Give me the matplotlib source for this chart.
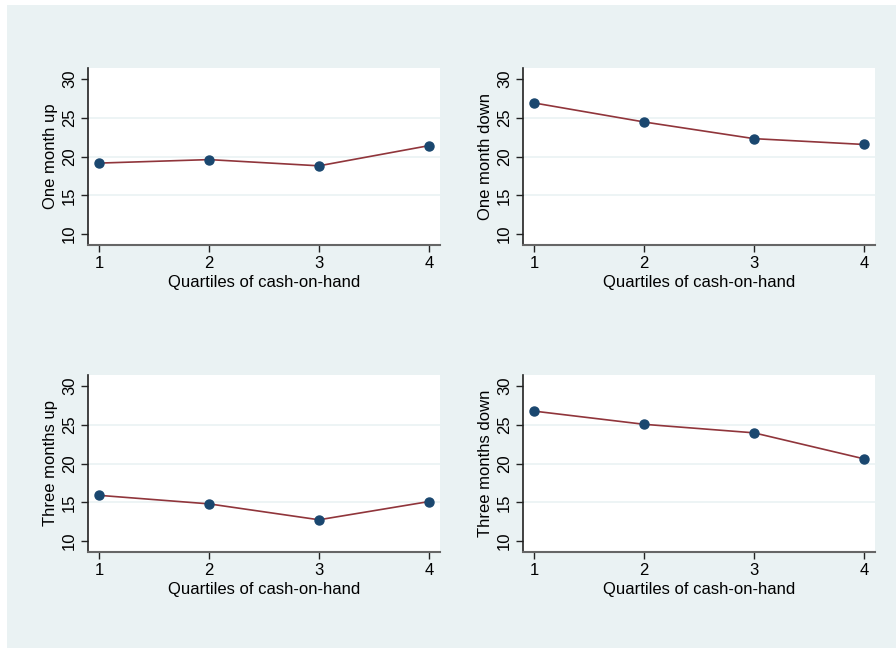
import matplotlib.pyplot as plt
from matplotlib.patches import Rectangle

plt.rcParams['font.family'] = ['Liberation Sans', 'DejaVu Sans']

quartiles = [1, 2, 3, 4]
one_month_up = [19.15, 19.6, 18.8, 21.4]
one_month_down = [26.9, 24.45, 22.3, 21.55]
three_months_up = [15.9, 14.8, 12.75, 15.1]
three_months_down = [26.75, 25.05, 23.95, 20.6]

panels = [
    ("One month up", one_month_up),
    ("One month down", one_month_down),
    ("Three months up", three_months_up),
    ("Three months down", three_months_down),
]

bg = '#EAF2F3'
line_col = '#90353B'
dot_col = '#1A476F'

fig = plt.figure(figsize=(8.96, 6.48), dpi=100, facecolor='white')
# light backdrop, leaving a thin white strip at left and top
fig.patches.append(Rectangle((7 / 896, 0), 1 - 7 / 896, 1 - 5 / 648,
                             transform=fig.transFigure, facecolor=bg,
                             edgecolor='none', zorder=-10))

lefts = [88 / 896, 523 / 896]
bottoms = [1 - 245 / 648, 1 - 552 / 648]
w = 352 / 896
h = 177 / 648

for i, (label, vals) in enumerate(panels):
    ax = fig.add_axes([lefts[i % 2], bottoms[i // 2], w, h])
    ax.set_facecolor('white')
    ax.plot(quartiles, vals, color=line_col, lw=1.2, zorder=3)
    ax.plot(quartiles, vals, 'o', color=dot_col, ms=6.5, zorder=4)
    ax.set_xlim(0.9, 4.1)
    ax.set_ylim(8.6, 31.4)
    ax.set_xticks(quartiles)
    ax.set_yticks([10, 15, 20, 25, 30])
    for yv in [15, 20, 25]:
        ax.axhline(yv, color=bg, lw=1.2, zorder=1)
    ax.spines['top'].set_visible(False)
    ax.spines['right'].set_visible(False)
    ax.spines['left'].set_color('#222222')
    ax.spines['bottom'].set_color('#666666')
    ax.spines['left'].set_linewidth(1.2)
    ax.spines['bottom'].set_linewidth(1.5)
    ax.tick_params(axis='both', direction='out', length=5, width=1,
                   color='#222222', labelsize=12, pad=3)
    for t in ax.get_yticklabels():
        t.set_rotation(90)
        t.set_va('center')
    ax.set_xlabel('Quartiles of cash-on-hand', fontsize=12, labelpad=3)
    ax.set_ylabel(label, fontsize=12, labelpad=3)

fig.savefig('out.png', dpi=100, facecolor='white')
